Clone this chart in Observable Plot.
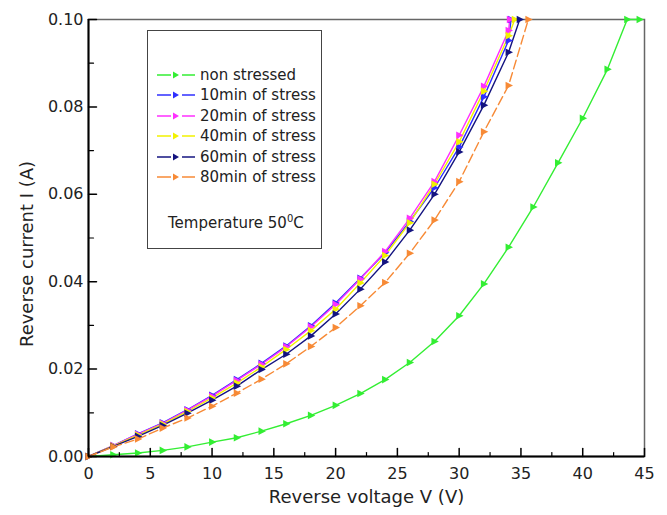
<!DOCTYPE html>
<html>
<head>
<meta charset="utf-8">
<script src="https://cdn.jsdelivr.net/npm/d3@7"></script>
<script src="https://cdn.jsdelivr.net/npm/@observablehq/plot@0.6"></script>
<style>
  body { margin: 0; background: #fff; }
  #wrap { position: relative; width: 667px; height: 515px; font-family: "DejaVu Sans", sans-serif; }
  #legend { position: absolute; left: 147px; top: 30px; width: 173px; height: 217px; border: 1.5px solid #444; background: #fff; box-sizing: content-box; }
  .row { position: absolute; left: 8px; height: 20px; display: flex; align-items: center; font-size: 15px; color: #222; white-space: nowrap; }
  .row svg { margin-right: 4px; }
  #temp { position: absolute; left: 20px; top: 182px; font-size: 15px; color: #222; white-space: nowrap; }
  #temp sup { font-size: 10px; }
</style>
</head>
<body>
<div id="wrap"><div id="legend"></div></div>
<script>
// ---- data ----
const seriesNames = ["non stressed", "10min of stress", "20min of stress", "40min of stress", "60min of stress", "80min of stress"];
const seriesColors = ["#33ee33", "#2f2fff", "#ff2fff", "#f2f200", "#141480", "#f78a36"];
const seriesDash = [null, null, null, null, null, "9,4"];

const vNon = [0,2,4,6,8,10,12,14,16,18,20,22,24,26,28,30,32,34,36,38,40,42,43.6,44.6];
const iNon = [0,0.0004,0.0008,0.0014,0.0022,0.0033,0.0043,0.0058,0.0075,0.0094,0.0117,0.0144,0.0176,0.0215,0.0263,0.0322,0.0395,0.0479,0.0571,0.0672,0.0774,0.0886,0.100,0.100];

const v10 = [0,2,4,6,8,10,12,14,16,18,20,22,24,26,28,30,32,34,34.2];
const i10 = [0,0.0025,0.0052,0.0077,0.0107,0.0140,0.0176,0.0213,0.0253,0.0299,0.0351,0.0408,0.0466,0.0538,0.0615,0.0708,0.0823,0.0952,0.100];

const v20 = [0,2,4,6,8,10,12,14,16,18,20,22,24,26,28,30,32,34,34.1];
const i20 = [0,0.0025,0.0051,0.0076,0.0106,0.0138,0.0174,0.0211,0.0251,0.0297,0.0348,0.0406,0.0469,0.0545,0.0629,0.0735,0.0847,0.0975,0.100];

const v40 = [0,2,4,6,8,10,12,14,16,18,20,22,24,26,28,30,32,34,34.5];
const i40 = [0,0.0024,0.0049,0.0074,0.0103,0.0134,0.0168,0.0205,0.0245,0.0288,0.0337,0.0397,0.0460,0.0535,0.0623,0.0720,0.0836,0.0963,0.100];

const v60 = [0,2,4,6,8,10,12,14,16,18,20,22,24,26,28,30,32,34,34.9];
const i60 = [0,0.0023,0.0046,0.0071,0.0099,0.0129,0.0161,0.0199,0.0234,0.0276,0.0326,0.0383,0.0445,0.0518,0.0600,0.0697,0.0804,0.0925,0.100];

const v80 = [0,2,4,6,8,10,12,14,16,18,20,22,24,26,28,30,32,34,35.6];
const i80 = [0,0.0022,0.0040,0.0065,0.0088,0.0115,0.0145,0.0177,0.0212,0.0252,0.0295,0.0345,0.0398,0.0465,0.0541,0.0629,0.0743,0.0849,0.100];

const xTicks = [0,5,10,15,20,25,30,35,40,45];
const xMinor = [2.5,7.5,12.5,17.5,22.5,27.5,32.5,37.5,42.5];
const yTicks = [0,0.02,0.04,0.06,0.08,0.10];
const yMinor = [0.01,0.03,0.05,0.07,0.09];

const xTitle = "Reverse voltage V (V)";
const yTitle = "Reverse current I (A)";
const tempText = ["Temperature 50", "0", "C"];

// ---- build table ----
const volts = [vNon, v10, v20, v40, v60, v80];
const currents = [iNon, i10, i20, i40, i60, i80];
const rows = [];
seriesNames.forEach((name, s) => volts[s].forEach((v, k) => rows.push({series: name, s, V: v, I: currents[s][k]})));

const tri = {
  draw(context, size) {
    const r = Math.sqrt(size / Math.PI);
    context.moveTo(r * 1.1, 0);
    context.lineTo(-r * 0.75, -r * 0.95);
    context.lineTo(-r * 0.75, r * 0.95);
    context.closePath();
  }
};
const tickShape = { draw(context, l) { context.moveTo(0, 0); context.lineTo(0, -l); } };

const lineMarks = seriesNames.map((name, s) =>
  Plot.line(rows.filter(d => d.s === s), {x: "V", y: "I", stroke: seriesColors[s], strokeWidth: 1.4, strokeDasharray: seriesDash[s]}));
const dotMarks = seriesNames.map((name, s) =>
  Plot.dot(rows.filter(d => d.s === s), {x: "V", y: "I", symbol: tri, r: 4, fill: seriesColors[s], stroke: "none"}));

const chart = Plot.plot({
  width: 667,
  height: 515,
  marginLeft: 88,
  marginRight: 23,
  marginTop: 19,
  marginBottom: 59,
  style: {fontFamily: "DejaVu Sans, sans-serif", fontSize: "16px", color: "#222", background: "#fff"},
  x: {domain: [0, 45]},
  y: {domain: [0, 0.1]},
  marks: [
    Plot.frame({stroke: "#666", strokeWidth: 1.5}),
    ...lineMarks,
    ...dotMarks,
    Plot.ruleX([0], {stroke: "#000", strokeWidth: 2}),
    Plot.ruleY([0], {stroke: "#000", strokeWidth: 2}),
    Plot.vector(xTicks, {x: d => d, frameAnchor: "bottom", length: 8, rotate: 0, anchor: "start", shape: tickShape, stroke: "#000", strokeWidth: 1.5}),
    Plot.vector(xMinor, {x: d => d, frameAnchor: "bottom", length: 4, rotate: 0, anchor: "start", shape: tickShape, stroke: "#000", strokeWidth: 1.2}),
    Plot.vector(yTicks, {y: d => d, frameAnchor: "left", length: 8, rotate: 90, anchor: "start", shape: tickShape, stroke: "#000", strokeWidth: 1.5}),
    Plot.vector(yMinor, {y: d => d, frameAnchor: "left", length: 5, rotate: 90, anchor: "start", shape: tickShape, stroke: "#000", strokeWidth: 1.2}),
    Plot.axisX({ticks: xTicks, tickSize: 0, tickPadding: 11, tickFormat: d => String(d), label: null}),
    Plot.axisY({ticks: yTicks, tickSize: 0, tickPadding: 5, tickFormat: d3.format(".2f"), label: null}),
    Plot.text([xTitle], {text: d => d, frameAnchor: "bottom", dy: 46, fontSize: 18, fill: "#222"}),
    Plot.text([yTitle], {text: d => d, frameAnchor: "left", textAnchor: "middle", rotate: -90, dx: -61, dy: 16, fontSize: 18, fill: "#222"})
  ]
});
document.getElementById("wrap").prepend(chart);

// ---- legend (HTML overlay inside the plot frame) ----
const legend = document.getElementById("legend");
seriesNames.forEach((name, s) => {
  const row = document.createElement("div");
  row.className = "row";
  row.style.top = (34 + s * 20.4) + "px";
  const c = seriesColors[s];
  row.innerHTML = `<svg width="40" height="12"><line x1="1" y1="6" x2="15" y2="6" stroke="${c}" stroke-width="1.5"/><polygon points="23,6 17,2.5 17,9.5" fill="${c}"/><line x1="26" y1="6" x2="39" y2="6" stroke="${c}" stroke-width="1.5"/></svg><span>${name}</span>`;
  legend.appendChild(row);
});
const temp = document.createElement("div");
temp.id = "temp";
temp.innerHTML = `${tempText[0]}<sup>${tempText[1]}</sup>${tempText[2]}`;
legend.appendChild(temp);
</script>
</body>
</html>
